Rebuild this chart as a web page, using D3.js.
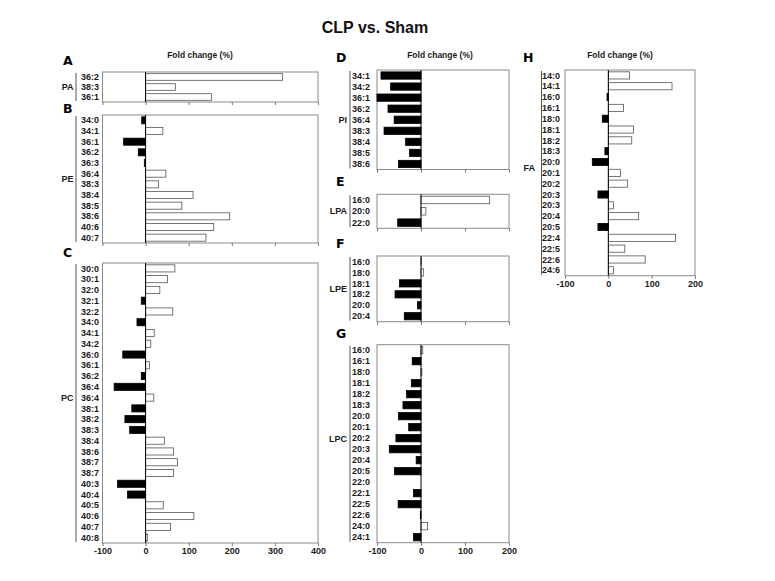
<!DOCTYPE html>
<html>
<head>
<meta charset="utf-8">
<script src="https://cdn.jsdelivr.net/npm/d3@7"></script>
<style>
  html, body { margin: 0; padding: 0; background: #fff; }
  svg { display: block; font-family: "Liberation Sans", Arial, sans-serif; }
</style>
</head>
<body>
<svg id="chart" width="775" height="581"></svg>
<script>
// ---------------- data ----------------
const chartTitle = "CLP vs. Sham";
const axisTitle = "Fold change (%)";

const paLabels = ["36:2", "38:3", "36:1"];
const paValues = [318, 69, 153];

const peLabels = ["34:0", "34:1", "36:1", "36:2", "36:3", "36:4", "38:3", "38:4", "38:5", "38:6", "40:6", "40:7"];
const peValues = [-9, 40, -51, -17, -3, 47, 30, 110, 84, 195, 158, 140];

const pcLabels = ["30:0", "30:1", "32:0", "32:1", "32:2", "34:0", "34:1", "34:2", "36:0", "36:1", "36:2", "36:4", "36:4",
                  "38:1", "38:2", "38:3", "38:4", "38:6", "38:7", "38:7", "40:3", "40:4", "40:5", "40:6", "40:7", "40:8"];
const pcValues = [68, 51, 33, -10, 63, -20, 20, 12, -53, 9, -10, -73, 19,
                  -32, -48, -37, 44, 65, 74, 65, -65, -42, 41, 112, 58, 4];

const piLabels = ["34:1", "34:2", "36:1", "36:2", "36:4", "38:3", "38:4", "38:5", "38:6"];
const piValues = [-91, -69, -100, -75, -61, -84, -35, -26, -51];

const lpaLabels = ["16:0", "20:0", "22:0"];
const lpaValues = [156, 11, -53];

const lpeLabels = ["16:0", "18:0", "18:1", "18:2", "20:0", "20:4"];
const lpeValues = [1, 6, -49, -59, -8, -38];

const lpcLabels = ["16:0", "16:1", "18:0", "18:1", "18:2", "18:3", "20:0", "20:1", "20:2", "20:3", "20:4", "20:5",
                   "22:0", "22:1", "22:5", "22:6", "24:0", "24:1"];
const lpcValues = [4, -20, 2, -22, -33, -41, -51, -28, -57, -72, -11, -60, 0, -17, -52, -1.5, 15, -17];

const faLabels = ["14:0", "14:1", "16:0", "16:1", "18:0", "18:1", "18:2", "18:3", "20:0", "20:1", "20:2", "20:3",
                  "20:3", "20:4", "20:5", "22:4", "22:5", "22:6", "24:6"];
const faValues = [49, 147, -3, 35, -14, 58, 54, -8, -37, 28, 44, -24, 12, 70, -24, 155, 38, 85, 12];

const leftTicks = [-100, 0, 100, 200, 300, 400];
const narrowTicks = [-100, 0, 100, 200];

// ---------------- layout ----------------
const columns = {
  left:  { domain: [-100, 400], range: [102.5, 318], ticks: leftTicks,  labelRight: 99,  bracketX: 76,    groupRight: 73.5, letterX: 63,  titleX: 200 },
  mid:   { domain: [-100, 200], range: [377, 509],   ticks: narrowTicks, labelRight: 370, bracketX: 350,   groupRight: 347, letterX: 336, titleX: 440 },
  right: { domain: [-100, 200], range: [565, 695],   ticks: narrowTicks, labelRight: 560, bracketX: 541.5, groupRight: 535, letterX: 523, titleX: 620 }
};

const panels = [
  { letter: "A", group: "PA",  col: "left",  labels: paLabels,  values: paValues,  y0: 72,    y1: 102,   letterY: 65,  tickLabels: false },
  { letter: "B", group: "PE",  col: "left",  labels: peLabels,  values: peValues,  y0: 115,   y1: 243,   letterY: 113, tickLabels: false },
  { letter: "C", group: "PC",  col: "left",  labels: pcLabels,  values: pcValues,  y0: 263,   y1: 543,   letterY: 257, tickLabels: true },
  { letter: "D", group: "PI",  col: "mid",   labels: piLabels,  values: piValues,  y0: 70,    y1: 169.5, letterY: 62,  tickLabels: false },
  { letter: "E", group: "LPA", col: "mid",   labels: lpaLabels, values: lpaValues, y0: 194.3, y1: 228.3, letterY: 186, tickLabels: false },
  { letter: "F", group: "LPE", col: "mid",   labels: lpeLabels, values: lpeValues, y0: 256,   y1: 321.7, letterY: 248, tickLabels: false },
  { letter: "G", group: "LPC", col: "mid",   labels: lpcLabels, values: lpcValues, y0: 344.7, y1: 542.7, letterY: 338, tickLabels: true },
  { letter: "H", group: "FA",  col: "right", labels: faLabels,  values: faValues,  y0: 70,    y1: 275.7, letterY: 62,  tickLabels: true }
];

const svg = d3.select("#chart");
const txtColor = "#1a1a1a";

// title
svg.append("text")
  .attr("x", 375).attr("y", 33)
  .attr("text-anchor", "middle")
  .attr("font-size", 16).attr("font-weight", "bold")
  .attr("fill", "#111")
  .text(chartTitle);

// axis titles per column
Object.values(columns).forEach(c => {
  svg.append("text")
    .attr("x", c.titleX).attr("y", 57.5)
    .attr("text-anchor", "middle")
    .attr("font-size", 8.5).attr("font-weight", "bold")
    .attr("fill", txtColor)
    .text(axisTitle);
});

panels.forEach(p => {
  const c = columns[p.col];
  const x = d3.scaleLinear().domain(c.domain).range(c.range);
  const idx = p.labels.map((d, i) => i);
  const y = d3.scaleBand().domain(idx).range([p.y0, p.y1]).paddingInner(0.34).paddingOuter(0.17);
  const step = y.step();
  const g = svg.append("g");

  // panel letter
  g.append("text")
    .attr("x", c.letterX).attr("y", p.letterY)
    .attr("font-family", "'DejaVu Sans', Verdana, sans-serif")
    .attr("font-size", 12.5).attr("font-weight", "bold")
    .attr("fill", "#000")
    .text(p.letter);

  // frame
  g.append("rect")
    .attr("x", c.range[0]).attr("y", p.y0)
    .attr("width", c.range[1] - c.range[0]).attr("height", p.y1 - p.y0)
    .attr("fill", "none").attr("stroke", "#8a8a8a").attr("stroke-width", 1);

  // x axis
  const axis = d3.axisBottom(x)
    .tickValues(c.ticks)
    .tickSize(3)
    .tickPadding(2)
    .tickFormat(p.tickLabels ? (d => String(d)) : "");
  const ax = g.append("g")
    .attr("transform", `translate(0,${p.y1})`)
    .call(axis);
  ax.select(".domain").remove();
  ax.selectAll(".tick line").attr("stroke", "#777");
  ax.selectAll(".tick text")
    .attr("font-size", 9).attr("font-weight", "bold")
    .attr("fill", txtColor)
    .attr("font-family", "'Liberation Sans', Arial, sans-serif");

  // bars
  g.selectAll("rect.bar")
    .data(p.values.map((v, i) => ({ v, i })))
    .join("rect")
    .attr("class", "bar")
    .attr("x", d => x(Math.min(0, d.v)))
    .attr("y", d => y(d.i))
    .attr("width", d => Math.abs(x(d.v) - x(0)))
    .attr("height", y.bandwidth())
    .attr("fill", d => d.v < 0 ? "#000" : "#fff")
    .attr("stroke", d => d.v < 0 ? "#000" : "#555")
    .attr("stroke-width", 0.8);

  // zero line
  g.append("line")
    .attr("x1", x(0)).attr("x2", x(0))
    .attr("y1", p.y0).attr("y2", p.y1)
    .attr("stroke", "#000").attr("stroke-width", 1);

  // category labels
  g.selectAll("text.cat")
    .data(p.labels.map((l, i) => ({ l, i })))
    .join("text")
    .attr("class", "cat")
    .attr("x", c.labelRight)
    .attr("y", d => y(d.i) + y.bandwidth() / 2)
    .attr("dy", "0.35em")
    .attr("text-anchor", "end")
    .attr("font-size", 9).attr("font-weight", "bold")
    .attr("fill", txtColor)
    .text(d => d.l);

  // bracket
  g.append("line")
    .attr("x1", c.bracketX).attr("x2", c.bracketX)
    .attr("y1", p.y0 + 1).attr("y2", p.y1 - 1)
    .attr("stroke", "#555").attr("stroke-width", 1);

  // group label
  const n = p.labels.length;
  const gy = (p.y0 + p.y1) / 2 - (n >= 18 ? 5 : 0);
  g.append("text")
    .attr("x", c.groupRight)
    .attr("y", gy)
    .attr("dy", "0.35em")
    .attr("text-anchor", "end")
    .attr("font-size", 9).attr("font-weight", "bold")
    .attr("fill", txtColor)
    .text(p.group);
});
</script>
</body>
</html>
